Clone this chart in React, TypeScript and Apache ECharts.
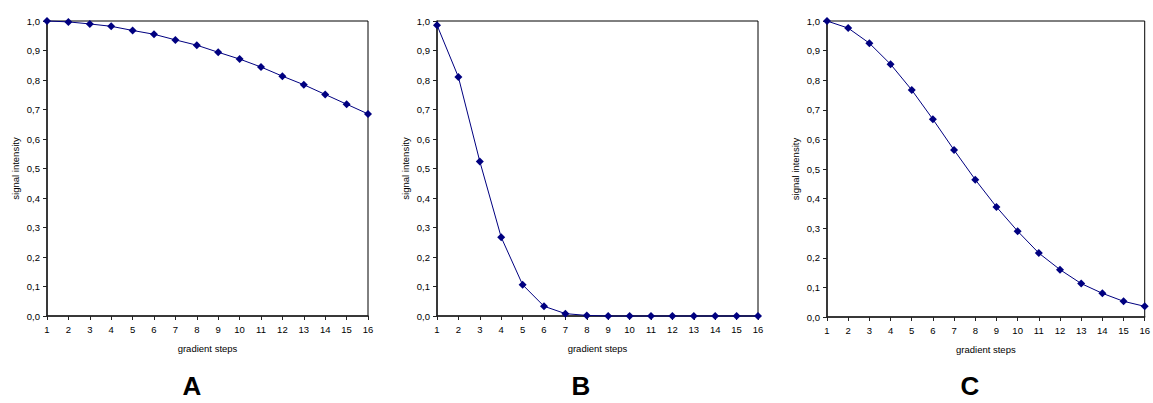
import React, { useEffect, useRef } from "react";
import * as echarts from "echarts";

const steps = [1, 2, 3, 4, 5, 6, 7, 8, 9, 10, 11, 12, 13, 14, 15, 16];
const seriesA = [1.0, 0.997, 0.99, 0.982, 0.968, 0.955, 0.936, 0.918, 0.894, 0.871, 0.844, 0.813, 0.784, 0.751, 0.718, 0.685];
const seriesB = [0.986, 0.81, 0.524, 0.267, 0.106, 0.033, 0.008, 0.002, 0, 0, 0, 0, 0, 0, 0, 0];
const seriesC = [1.0, 0.976, 0.925, 0.854, 0.767, 0.668, 0.564, 0.464, 0.372, 0.29, 0.216, 0.16, 0.113, 0.08, 0.053, 0.036];
const panelLetters = ["A", "B", "C"];
const xTitle = "gradient steps";
const yTitle = "signal intensity";

const FONT = "'Liberation Sans', Arial, sans-serif";
const NAVY = "#000080";

export default function App() {
  const ref = useRef<HTMLDivElement>(null);
  useEffect(() => {
    document.body.style.margin = "0";
    const chart = echarts.init(ref.current!, null, { renderer: "svg" });
    const grids = [
      { left: 47, top: 21, width: 321, height: 295 },
      { left: 437, top: 21, width: 321, height: 295 },
      { left: 827, top: 21, width: 321, height: 296 },
    ];
    const allSeries = [seriesA, seriesB, seriesC];
    const letterX = [192, 581, 970];
    const option: any = {
      animation: false,
      backgroundColor: "#fff",
      textStyle: { fontFamily: FONT },
      grid: grids.map((g) => ({ ...g, show: true, borderColor: "#000", borderWidth: 1, backgroundColor: "#fff" })),
      xAxis: grids.map((_, i) => ({
        type: "value",
        gridIndex: i,
        min: 1,
        max: 16,
        interval: 1,
        name: xTitle,
        nameLocation: "middle",
        nameGap: 27,
        nameTextStyle: { fontSize: 9.5, color: "#000", fontFamily: FONT },
        axisLine: { show: true, onZero: false, lineStyle: { color: "#222", width: 1.5 } },
        axisTick: { show: true, length: 4, inside: false, lineStyle: { color: "#222" } },
        axisLabel: { fontSize: 9.5, color: "#000", margin: 8, fontFamily: FONT, showMinLabel: true, showMaxLabel: true },
        splitLine: { show: false },
      })),
      yAxis: grids.map((_, i) => ({
        type: "value",
        gridIndex: i,
        min: 0,
        max: 1,
        interval: 0.1,
        name: yTitle,
        nameLocation: "middle",
        nameGap: 27,
        nameTextStyle: { fontSize: 9.5, color: "#000", fontFamily: FONT },
        axisLine: { show: true, lineStyle: { color: "#222", width: 1.5 } },
        axisTick: { show: true, length: 4, lineStyle: { color: "#222" } },
        axisLabel: {
          fontSize: 9.5,
          color: "#000",
          margin: 7,
          fontFamily: FONT,
          formatter: (v: number) => v.toFixed(1).replace(".", ","),
        },
        splitLine: { show: false },
      })),
      series: allSeries.map((vals, i) => ({
        type: "line",
        xAxisIndex: i,
        yAxisIndex: i,
        data: steps.map((s, j) => [s, vals[j]]),
        symbol: "diamond",
        symbolSize: 8,
        lineStyle: { color: NAVY, width: 1 },
        itemStyle: { color: NAVY },
        clip: false,
      })),
      graphic: panelLetters.map((t, i) => ({
        type: "text",
        x: letterX[i],
        y: 386,
        style: {
          text: t,
          fontSize: 26,
          fontWeight: "bold",
          fontFamily: FONT,
          fill: "#000",
          textAlign: "center",
          textVerticalAlign: "middle",
        },
      })),
    };
    chart.setOption(option);
    return () => chart.dispose();
  }, []);
  return <div ref={ref} style={{ width: 1153, height: 403, position: "absolute", left: 0, top: 0 }} />;
}
